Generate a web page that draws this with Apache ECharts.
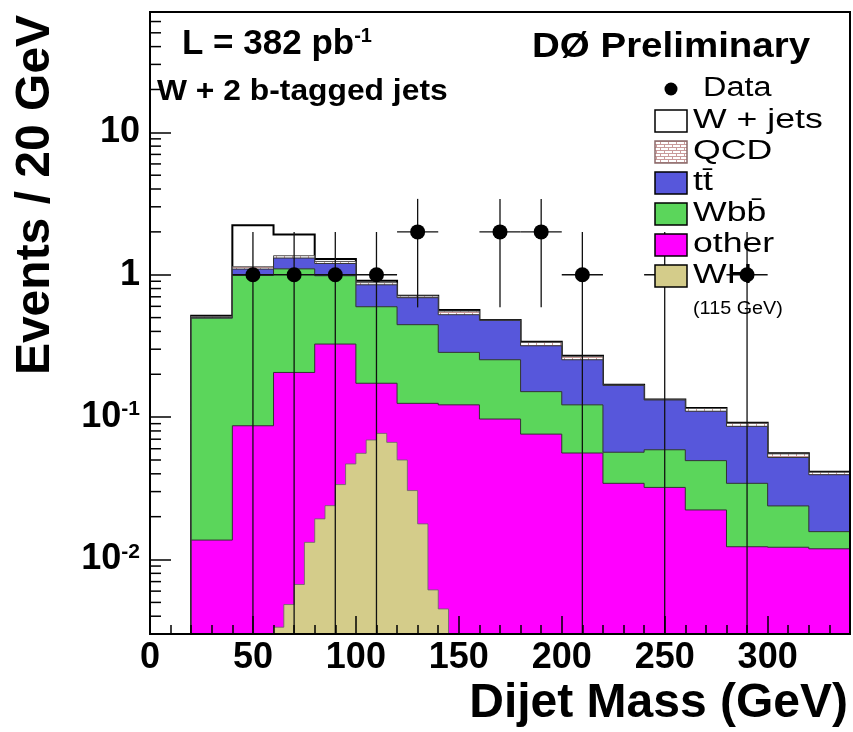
<!DOCTYPE html>
<html><head><meta charset="utf-8">
<script src="https://cdn.jsdelivr.net/npm/echarts@6/dist/echarts.min.js"></script>
<style>html,body{margin:0;padding:0;background:#fff}#c{width:853px;height:732px}</style>
</head><body><div id="c"></div>
<script>
// ---- data ----
const binEdges = [20,40,60,80,100,120,140,160,180,200,220,240,260,280,300,320,340];
const other = [0.0137,0.087,0.206,0.326,0.173,0.125,0.122,0.097,0.076,0.056,0.0343,0.0321,0.0223,0.0123,0.0122,0.0119];
const wbb   = [0.482,0.903,0.894,0.658,0.423,0.321,0.163,0.156,0.075,0.066,0.0224,0.0269,0.0272,0.022,0.0116,0.0038];
const ttbar = [0.004,0.106,0.21,0.216,0.254,0.244,0.239,0.225,0.166,0.131,0.1103,0.073,0.0605,0.0519,0.0283,0.0237];
const qcd   = [0.010,0.042,0.05,0.04,0.03,0.02,0.031,0.002,0.018,0.014,0.001,0.0005,0.005,0.0043,0.0031,0.0016];
const wjets = [0.005,1.09,0.56,0.05,0.028,0.002,0.01,0.001,0.003,0.003,0.001,0.0005,0.001,0.0009,0.0005,0.0003];
const whEdges = [60,65,70,75,80,85,90,95,100,105,110,115,120,125,130,135,140,145];
const wh = [0.00335,0.00483,0.00668,0.0132,0.0193,0.0239,0.0336,0.0469,0.0557,0.0691,0.0769,0.0665,0.050,0.0305,0.0178,0.00612,0.0045];
const dataX    = [50,70,90,110,130,170,190,210,250,290];
const dataY    = [1,1,1,1,2,2,2,1,1,1];
const dataLow  = [0,0,0,0,0.59,0.59,0.59,0,0,0];
const dataHigh = [2,2,2,2,3.41,3.41,3.41,2,2,2];
const dataHalfBin = 10;
const xTickValues = [0,50,100,150,200,250,300];
const yTickLabels = {'10':'10','1':'1','0.1':'{b|10}{s|-1}','0.01':'{b|10}{s|-2}'};
const yMinorMult = [2,3,4,5,6,7,8,9];
const yDecades = [0.001,0.01,0.1,1,10];

const X_MIN = 0, X_MAX = 340, Y_MIN = 0.003, Y_MAX = 70;
const FONT = 'Liberation Sans';
const C_BLUE = '#5757db', C_GREEN = '#5bd65b', C_MAG = '#ff00ff', C_WH = '#d4cc8a';

function brick(){
  const c = document.createElement('canvas'); c.width = 8; c.height = 6;
  const g = c.getContext('2d');
  g.fillStyle = '#fff'; g.fillRect(0,0,8,6);
  g.strokeStyle = '#c99a9a'; g.lineWidth = 1; g.beginPath();
  g.moveTo(0,0.5); g.lineTo(8,0.5); g.moveTo(0,3.5); g.lineTo(8,3.5);
  g.moveTo(0.5,0); g.lineTo(0.5,3); g.moveTo(4.5,3); g.lineTo(4.5,6);
  g.stroke(); return c;
}
const qcdPattern = {image: brick(), repeat: 'repeat'};

// cumulative stack
const layers = [other, wbb, ttbar, qcd, wjets];
const cum = [];
layers.forEach((arr,k)=>{ cum.push(arr.map((v,i)=> v + (k ? cum[k-1][i] : 0))); });

function histSeries(edges, tops, fill, stroke, lw, z){
  return {
    type:'custom', coordinateSystem:'cartesian2d', clip:true, silent:true, z,
    data:[[edges[0], tops[0]]],
    renderItem(params, api){
      const pts = [api.coord([edges[0], Y_MIN])];
      for(let i=0;i<tops.length;i++){
        pts.push(api.coord([edges[i], Math.max(tops[i],Y_MIN)]));
        pts.push(api.coord([edges[i+1], Math.max(tops[i],Y_MIN)]));
      }
      pts.push(api.coord([edges[edges.length-1], Y_MIN]));
      return {type:'polygon', shape:{points:pts}, style:{fill, stroke, lineWidth:lw}};
    }
  };
}

const series = [
  histSeries(binEdges, cum[4], '#ffffff', '#000', 2, 2),
  histSeries(binEdges, cum[3], qcdPattern, '#555', 1, 3),
  histSeries(binEdges, cum[2], C_BLUE, '#333', 1, 4),
  histSeries(binEdges, cum[1], C_GREEN, '#333', 1, 5),
  histSeries(binEdges, cum[0], C_MAG, '#333', 1, 6),
  histSeries(whEdges, wh, C_WH, '#666', 0.8, 7),
  {
    type:'custom', coordinateSystem:'cartesian2d', clip:true, silent:true, z:8,
    data: dataX.map((x,i)=>[x, dataY[i], dataLow[i], dataHigh[i]]),
    renderItem(params, api){
      const x = api.value(0), y = api.value(1);
      const lo = Math.max(api.value(2), Y_MIN), hi = api.value(3);
      const p = api.coord([x,y]);
      const pl = api.coord([x,lo]), ph = api.coord([x,hi]);
      const pa = api.coord([x-dataHalfBin,y]), pb = api.coord([x+dataHalfBin,y]);
      return {type:'group', children:[
        {type:'line', shape:{x1:pl[0],y1:pl[1],x2:ph[0],y2:ph[1]}, style:{stroke:'#111', lineWidth:1.3}},
        {type:'line', shape:{x1:pa[0],y1:pa[1],x2:pb[0],y2:pb[1]}, style:{stroke:'#111', lineWidth:1.4}},
        {type:'circle', shape:{cx:p[0],cy:p[1],r:7.5}, style:{fill:'#000'}}
      ]};
    }
  },
  {
    type:'custom', coordinateSystem:'cartesian2d', clip:false, silent:true, z:30,
    data: yDecades.flatMap(d=>yMinorMult.map(m=>[X_MIN, +(d*m).toPrecision(3)])).filter(v=>v[1]>Y_MIN && v[1]<Y_MAX),
    renderItem(params, api){
      const p = api.coord([api.value(0), api.value(1)]);
      return {type:'line', shape:{x1:p[0],y1:p[1],x2:p[0]+11,y2:p[1]}, style:{stroke:'#000', lineWidth:1.5}};
    }
  }
];

const legendRows = [
  {label:'W + jets', fill:'#ffffff', y:121},
  {label:'QCD', fill:qcdPattern, y:152, stroke:'#8a6a6a'},
  {label:'tt\u0304', fill:C_BLUE, y:183},
  {label:'Wbb\u0304', fill:C_GREEN, y:214},
  {label:'other', fill:C_MAG, y:245},
  {label:'WH', fill:C_WH, y:276}
];
const graphics = [];
graphics.push({type:'circle', shape:{cx:671, cy:89, r:6.5}, style:{fill:'#000'}, z:100});
graphics.push({type:'text', x:703, y:89, scaleX:1.2, style:{text:'Data', font:'27px "'+FONT+'"', fill:'#000', textVerticalAlign:'middle'}, z:100});
legendRows.forEach(r=>{
  graphics.push({type:'rect', shape:{x:655, y:r.y-11, width:32, height:22}, style:{fill:r.fill, stroke:r.stroke||'#000', lineWidth:1.5}, z:100});
  graphics.push({type:'text', x:693, y:r.y, scaleX:1.32, style:{text:r.label, font:'27px "'+FONT+'"', fill:'#000', textVerticalAlign:'middle'}, z:100});
});
graphics.push({type:'text', x:693, y:309, scaleX:1.1, style:{text:'(115 GeV)', font:'18px "'+FONT+'"', fill:'#000', textVerticalAlign:'middle'}, z:100});
graphics.push({type:'text', x:182, y:44, style:{text:'{m|L = 382 pb}{s|-1}', rich:{m:{font:'bold 35px "'+FONT+'"', fill:'#000'}, s:{font:'bold 20px "'+FONT+'"', fill:'#000', verticalAlign:'top'}}, textVerticalAlign:'middle'}, z:100});
graphics.push({type:'text', x:157, y:92, scaleX:1.06, style:{text:'W + 2 b-tagged jets', font:'bold 30px "'+FONT+'"', fill:'#000', textVerticalAlign:'middle'}, z:100});
graphics.push({type:'text', x:532, y:47, scaleX:1.1, style:{text:'D\u00D8 Preliminary', font:'bold 35px "'+FONT+'"', fill:'#000', textVerticalAlign:'middle'}, z:100});
graphics.push({type:'text', x:36, y:195, rotation:Math.PI/2, style:{text:'Events / 20 GeV', font:'bold 48px "'+FONT+'"', fill:'#000', textAlign:'center', textVerticalAlign:'middle'}, z:100});
graphics.push({type:'text', x:848, y:704, style:{text:'Dijet Mass (GeV)', font:'bold 48px "'+FONT+'"', fill:'#000', textAlign:'right', textVerticalAlign:'middle'}, z:100});

const chart = echarts.init(document.getElementById('c'), null, {renderer:'canvas'});
chart.setOption({
  animation:false,
  backgroundColor:'#fff',
  grid:{left:150, right:3, top:12, bottom:98, show:true, borderColor:'#000', borderWidth:2, z:20},
  xAxis:{
    type:'value', min:X_MIN, max:X_MAX, interval:50, z:20,
    axisLine:{show:true, onZero:false, lineStyle:{color:'#000', width:2}},
    axisTick:{show:true, inside:true, length:18, lineStyle:{color:'#000', width:1.5}},
    minorTick:{show:true, splitNumber:5, length:9, lineStyle:{color:'#000', width:1.5}},
    splitLine:{show:false},
    axisLabel:{margin:6, fontFamily:FONT, fontWeight:'bold', fontSize:36, color:'#000',
      formatter:v=> xTickValues.indexOf(v)>=0 ? String(v) : ''}
  },
  yAxis:{
    type:'log', logBase:10, min:Y_MIN, max:Y_MAX, z:20,
    axisLine:{show:true, lineStyle:{color:'#000', width:2}},
    axisTick:{show:true, inside:true, length:21, lineStyle:{color:'#000', width:1.5}},
    splitLine:{show:false},
    axisLabel:{margin:10, fontFamily:FONT, fontWeight:'bold', fontSize:36, color:'#000',
      formatter:v=>{ const k = String(+v.toPrecision(3)); return yTickLabels[k] || ''; },
      rich:{b:{fontFamily:FONT, fontWeight:'bold', fontSize:36, color:'#000'},
            s:{fontFamily:FONT, fontWeight:'bold', fontSize:21, color:'#000', verticalAlign:'top'}}}
  },
  graphic:graphics,
  series
});
</script></body></html>
